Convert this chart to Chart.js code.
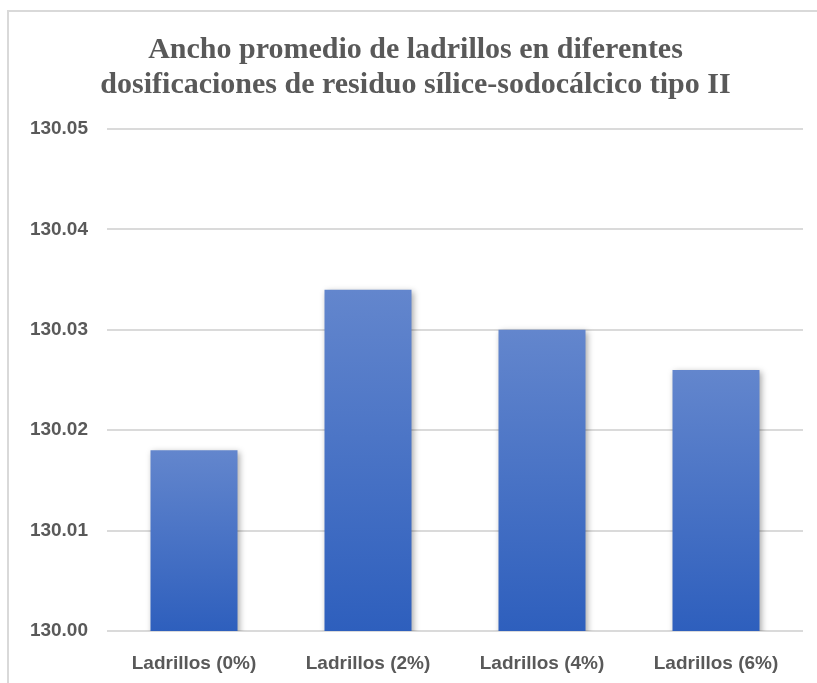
<!DOCTYPE html>
<html>
<head>
<meta charset="utf-8">
<script src="https://cdn.jsdelivr.net/npm/chart.js@4"></script>
<style>
  html, body { margin: 0; padding: 0; background: #ffffff; overflow: hidden; }
  #frame { position: absolute; left: 7px; top: 10px; width: 900px; height: 800px; border: 2px solid #d9d9d9; box-sizing: border-box; }
  #c { position: absolute; left: 0; top: 0; }
</style>
</head>
<body>
<div id="frame"></div>
<canvas id="c" width="817" height="683"></canvas>
<script>
const titleLines = [
  'Ancho promedio de ladrillos en diferentes',
  'dosificaciones de residuo sílice-sodocálcico tipo II'
];
const categories = ['Ladrillos (0%)', 'Ladrillos (2%)', 'Ladrillos (4%)', 'Ladrillos (6%)'];
const anchoValues = [130.018, 130.034, 130.030, 130.026];
const yTickValues = [130.00, 130.01, 130.02, 130.03, 130.04, 130.05];

const textColor = '#595959';

const shadowPlugin = {
  id: 'barShadow',
  beforeDatasetDraw(chart) {
    const ctx = chart.ctx;
    ctx.save();
    ctx.shadowColor = 'rgba(0,0,0,0.35)';
    ctx.shadowBlur = 6;
    ctx.shadowOffsetX = 2;
    ctx.shadowOffsetY = 2;
  },
  afterDatasetDraw(chart) {
    chart.ctx.restore();
  }
};

function barGradient(context) {
  const chart = context.chart;
  const area = chart.chartArea;
  if (!area || context.type !== 'data') return '#4a73c6';
  const y = chart.scales.y;
  const v = context.parsed ? context.parsed.y : anchoValues[context.dataIndex];
  const top = y.getPixelForValue(v);
  const bottom = y.getPixelForValue(yTickValues[0]);
  if (!isFinite(top) || !isFinite(bottom) || top === bottom) return '#4a73c6';
  const g = chart.ctx.createLinearGradient(0, top, 0, bottom);
  g.addColorStop(0, '#6386cd');
  g.addColorStop(1, '#2e5fbd');
  return g;
}

new Chart(document.getElementById('c'), {
  type: 'bar',
  data: {
    labels: categories,
    datasets: [{
      label: 'Ancho promedio',
      data: anchoValues,
      backgroundColor: barGradient,
      borderWidth: 0,
      barPercentage: 0.5,
      categoryPercentage: 1.0
    }]
  },
  options: {
    responsive: false,
    animation: false,
    layout: { padding: { left: 28, right: 14, top: 0, bottom: 0 } },
    plugins: {
      legend: { display: false },
      tooltip: { enabled: false },
      title: {
        display: true,
        text: titleLines,
        color: textColor,
        font: { family: "'Liberation Serif', 'Times New Roman', serif", size: 30, weight: 'bold', lineHeight: 1.15 },
        padding: { top: 33, bottom: 27 }
      }
    },
    scales: {
      x: {
        grid: { display: false, drawTicks: false },
        border: { display: false },
        afterFit(scale) { scale.height = 52; },
        ticks: {
          color: textColor,
          padding: 21,
          font: { family: "'Liberation Sans', Arial, sans-serif", size: 19, weight: 'bold' }
        }
      },
      y: {
        min: yTickValues[0],
        max: yTickValues[yTickValues.length - 1],
        afterBuildTicks(scale) {
          scale.ticks = yTickValues.map(v => ({ value: v }));
        },
        afterFit(scale) { scale.width = 79; },
        grid: { color: '#dadada', lineWidth: 2, drawTicks: false },
        border: { display: false },
        ticks: {
          color: textColor,
          padding: 19,
          font: { family: "'Liberation Sans', Arial, sans-serif", size: 19, weight: 'bold' },
          callback: v => Number(v).toFixed(2)
        }
      }
    }
  },
  plugins: [shadowPlugin]
});
</script>
</body>
</html>
